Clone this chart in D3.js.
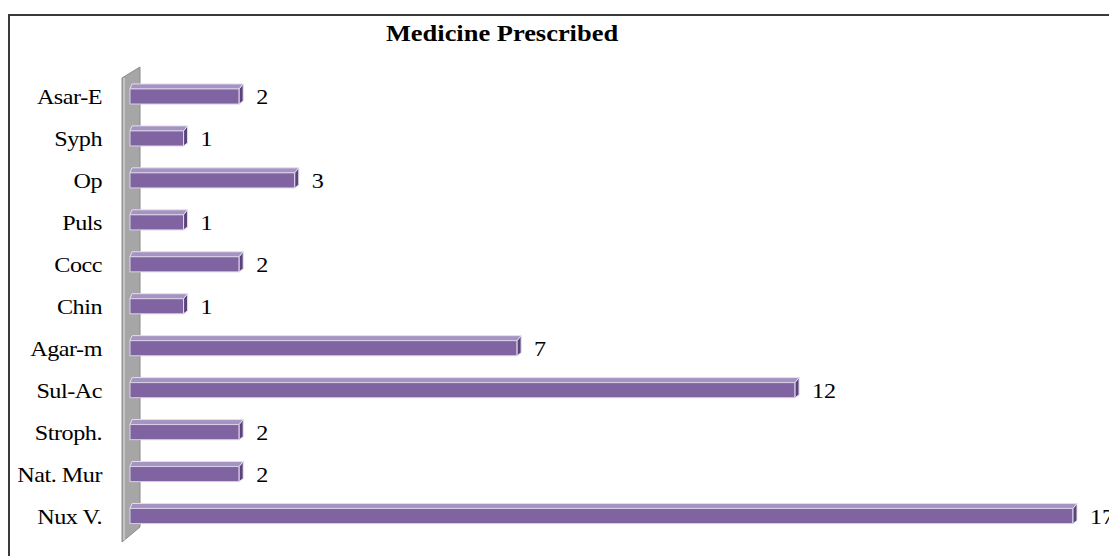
<!DOCTYPE html>
<html><head><meta charset="utf-8">
<script src="https://cdn.jsdelivr.net/npm/d3@7"></script>
<style>html,body{margin:0;padding:0;background:#fff;}svg{display:block;}</style>
</head><body>
<svg id="chart" width="1109" height="556"></svg>
<script>
const categories = ["Asar-E","Syph","Op","Puls","Cocc","Chin","Agar-m","Sul-Ac","Stroph.","Nat. Mur","Nux V."];
const values = [2,1,3,1,2,1,7,12,2,2,17];
const title = "Medicine Prescribed";

const svg = d3.select("#chart");
const font = "'Liberation Serif','Times New Roman',serif";
const sx = 1.15;

// frame
svg.append("path").attr("d", `M9,556 L9,15 L1109,15`).attr("fill","none").attr("stroke","#3a3a3a").attr("stroke-width",2);

svg.append("text").attr("transform",`translate(502,41) scale(${sx},1)`).attr("text-anchor","middle")
  .attr("font-family",font).attr("font-weight","bold").attr("font-size",23).attr("fill","#000").text(title);

const x = d3.scaleLinear().domain([0,17]).range([128,1073]);
const y = d3.scaleBand().domain(categories).range([75.5,537]).paddingInner(0.64).paddingOuter(0.32);

// wall
svg.append("polygon").attr("points","122,78 140,67 140,527 122,542")
  .attr("fill","#a6a6a6").attr("stroke","#8a8a8a").attr("stroke-width",1);
svg.append("line").attr("x1",124).attr("y1",78).attr("x2",124).attr("y2",540).attr("stroke","#c4c4c4").attr("stroke-width",2);

const d = 5;
const g = svg.append("g");
const rows = categories.map((c,i)=>({c, v:values[i]}));
rows.forEach(r=>{
  const x0 = 130, x1 = x(r.v);
  const yt = y(r.c), yb = yt + y.bandwidth();
  const cy = (yt+yb)/2;
  // top face
  g.append("polygon").attr("points",`${x0},${yt} ${x0+2},${yt-d} ${x1+d-1},${yt-d} ${x1},${yt}`)
    .attr("fill","#a593c2").attr("stroke","#e4def0").attr("stroke-width",1);
  // front
  g.append("rect").attr("x",x0).attr("y",yt).attr("width",x1-x0).attr("height",yb-yt)
    .attr("fill","#8064a2").attr("stroke","#d9d0e8").attr("stroke-width",1);
  // cap
  g.append("polygon").attr("points",`${x1},${yt} ${x1+d-1},${yt-d} ${x1+d-1},${yb-d+2} ${x1},${yb}`)
    .attr("fill","#5b4479").attr("stroke","#e4def0").attr("stroke-width",1);
  // value label
  svg.append("text").attr("transform",`translate(${x1+d+12},${cy+8}) scale(${sx},1)`)
    .attr("font-family",font).attr("font-size",21).attr("fill","#000").text(r.v);
  // category label
  svg.append("text").attr("transform",`translate(102,${cy+8}) scale(${sx},1)`).attr("text-anchor","end")
    .attr("font-family",font).attr("font-size",21).attr("letter-spacing","-0.4").attr("fill","#000").text(r.c);
});
</script>
</body></html>
